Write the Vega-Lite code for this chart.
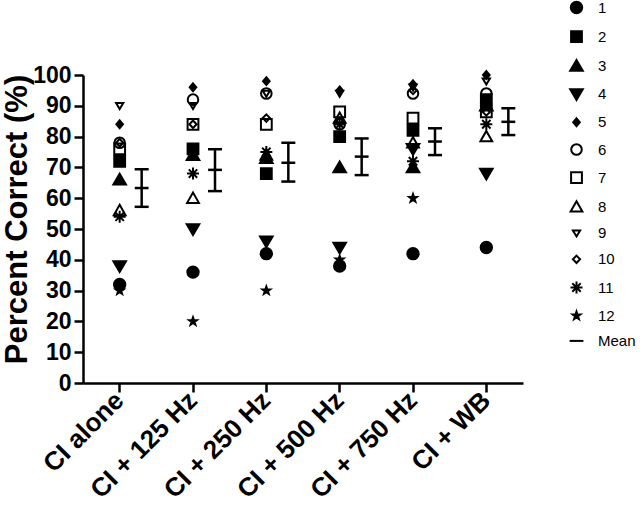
{
  "$schema": "https://vega.github.io/schema/vega-lite/v6.json",
  "width": 440,
  "height": 308,
  "autosize": {"type": "none"},
  "padding": {"left": 83, "top": 75, "right": 117, "bottom": 122},
  "background": "white",
  "config": {
    "view": {"stroke": null},
    "font": "Liberation Sans",
    "axis": {
      "domainColor": "black", "domainWidth": 2.5, "tickColor": "black", "tickWidth": 2.5, "tickSize": 9,
      "labelFont": "Liberation Sans", "labelFontWeight": "bold", "labelColor": "black", "grid": false,
      "titleFont": "Liberation Sans", "titleFontWeight": "bold", "titleColor": "black"
    },
    "legend": {"labelFont": "Liberation Sans", "labelFontSize": 15, "labelColor": "black"}
  },
  "resolve": {"axis": {"y": "independent", "x": "independent"}},
  "datasets": {
    "scores": [
      {"cond": "CI alone", "subject": "1", "value": 32}, {"cond": "CI alone", "subject": "2", "value": 72}, {"cond": "CI alone", "subject": "3", "value": 66}, {"cond": "CI alone", "subject": "4", "value": 38}, {"cond": "CI alone", "subject": "5", "value": 84}, {"cond": "CI alone", "subject": "6", "value": 78}, {"cond": "CI alone", "subject": "7", "value": 76}, {"cond": "CI alone", "subject": "8", "value": 56}, {"cond": "CI alone", "subject": "9", "value": 90}, {"cond": "CI alone", "subject": "10", "value": 78}, {"cond": "CI alone", "subject": "11", "value": 54}, {"cond": "CI alone", "subject": "12", "value": 30},
      {"cond": "CI + 125 Hz", "subject": "1", "value": 36}, {"cond": "CI + 125 Hz", "subject": "2", "value": 76}, {"cond": "CI + 125 Hz", "subject": "3", "value": 74}, {"cond": "CI + 125 Hz", "subject": "4", "value": 50}, {"cond": "CI + 125 Hz", "subject": "5", "value": 96}, {"cond": "CI + 125 Hz", "subject": "6", "value": 92}, {"cond": "CI + 125 Hz", "subject": "7", "value": 84}, {"cond": "CI + 125 Hz", "subject": "8", "value": 60}, {"cond": "CI + 125 Hz", "subject": "9", "value": 90}, {"cond": "CI + 125 Hz", "subject": "10", "value": 84}, {"cond": "CI + 125 Hz", "subject": "11", "value": 68}, {"cond": "CI + 125 Hz", "subject": "12", "value": 20},
      {"cond": "CI + 250 Hz", "subject": "1", "value": 42}, {"cond": "CI + 250 Hz", "subject": "2", "value": 68}, {"cond": "CI + 250 Hz", "subject": "3", "value": 73}, {"cond": "CI + 250 Hz", "subject": "4", "value": 46}, {"cond": "CI + 250 Hz", "subject": "5", "value": 98}, {"cond": "CI + 250 Hz", "subject": "6", "value": 94}, {"cond": "CI + 250 Hz", "subject": "7", "value": 84}, {"cond": "CI + 250 Hz", "subject": "8", "value": 74}, {"cond": "CI + 250 Hz", "subject": "9", "value": 94}, {"cond": "CI + 250 Hz", "subject": "10", "value": 86}, {"cond": "CI + 250 Hz", "subject": "11", "value": 75}, {"cond": "CI + 250 Hz", "subject": "12", "value": 30},
      {"cond": "CI + 500 Hz", "subject": "1", "value": 38}, {"cond": "CI + 500 Hz", "subject": "2", "value": 80}, {"cond": "CI + 500 Hz", "subject": "3", "value": 70}, {"cond": "CI + 500 Hz", "subject": "4", "value": 44}, {"cond": "CI + 500 Hz", "subject": "5", "value": 95}, {"cond": "CI + 500 Hz", "subject": "6", "value": 84}, {"cond": "CI + 500 Hz", "subject": "7", "value": 88}, {"cond": "CI + 500 Hz", "subject": "8", "value": 86}, {"cond": "CI + 500 Hz", "subject": "9", "value": 94}, {"cond": "CI + 500 Hz", "subject": "10", "value": 85}, {"cond": "CI + 500 Hz", "subject": "11", "value": 84}, {"cond": "CI + 500 Hz", "subject": "12", "value": 40},
      {"cond": "CI + 750 Hz", "subject": "1", "value": 42}, {"cond": "CI + 750 Hz", "subject": "2", "value": 82}, {"cond": "CI + 750 Hz", "subject": "3", "value": 70}, {"cond": "CI + 750 Hz", "subject": "4", "value": 76}, {"cond": "CI + 750 Hz", "subject": "5", "value": 97}, {"cond": "CI + 750 Hz", "subject": "6", "value": 94}, {"cond": "CI + 750 Hz", "subject": "7", "value": 86}, {"cond": "CI + 750 Hz", "subject": "8", "value": 78}, {"cond": "CI + 750 Hz", "subject": "9", "value": 96}, {"cond": "CI + 750 Hz", "subject": "10", "value": 95}, {"cond": "CI + 750 Hz", "subject": "11", "value": 72}, {"cond": "CI + 750 Hz", "subject": "12", "value": 60},
      {"cond": "CI + WB", "subject": "1", "value": 44}, {"cond": "CI + WB", "subject": "2", "value": 92}, {"cond": "CI + WB", "subject": "3", "value": 90}, {"cond": "CI + WB", "subject": "4", "value": 68}, {"cond": "CI + WB", "subject": "5", "value": 100}, {"cond": "CI + WB", "subject": "6", "value": 94}, {"cond": "CI + WB", "subject": "7", "value": 88}, {"cond": "CI + WB", "subject": "8", "value": 80}, {"cond": "CI + WB", "subject": "9", "value": 98}, {"cond": "CI + WB", "subject": "10", "value": 88}, {"cond": "CI + WB", "subject": "11", "value": 84}, {"cond": "CI + WB", "subject": "12", "value": 90}
    ],
    "means": [
      {"cond": "CI alone", "subject": "Mean", "mean": 63.3, "lo": 57.2, "hi": 69.4},
      {"cond": "CI + 125 Hz", "subject": "Mean", "mean": 69.2, "lo": 62.3, "hi": 75.9},
      {"cond": "CI + 250 Hz", "subject": "Mean", "mean": 71.5, "lo": 65.4, "hi": 78.0},
      {"cond": "CI + 500 Hz", "subject": "Mean", "mean": 73.5, "lo": 67.5, "hi": 79.4},
      {"cond": "CI + 750 Hz", "subject": "Mean", "mean": 78.4, "lo": 74.0, "hi": 82.7},
      {"cond": "CI + WB", "subject": "Mean", "mean": 84.8, "lo": 80.5, "hi": 89.2}
    ]
  },
  "layer": [
    {
      "data": {"name": "scores"},
      "mark": {"type": "point", "filled": true, "opacity": 1, "strokeWidth": 2, "size": 144},
      "encoding": {
        "x": {"field": "cond", "type": "nominal", "sort": ["CI alone", "CI + 125 Hz", "CI + 250 Hz", "CI + 500 Hz", "CI + 750 Hz", "CI + WB"], "scale": {"type": "band", "paddingInner": 0, "paddingOuter": 0},
              "axis": {"title": null, "labelAngle": -45, "labelAlign": "right", "labelBaseline": "middle", "labelFontSize": 26, "labelPadding": 4, "bandPosition": 0.5}},
        "y": {"field": "value", "type": "quantitative", "title": "Percent Correct (%)", "scale": {"domain": [0, 100], "nice": false},
              "axis": {"values": [0, 10, 20, 30, 40, 50, 60, 70, 80, 90, 100], "labelOverlap": false, "labelFontSize": 23, "labelPadding": 3, "titleFontSize": 31, "titleX": -50, "titleY": 144, "titleAlign": "center", "titleBaseline": "bottom", "titleAngle": -90}},
        "shape": {"field": "subject", "type": "nominal",
          "scale": {"domain": ["1", "2", "3", "4", "5", "6", "7", "8", "9", "10", "11", "12", "Mean"],
            "range": [
              "M0.95,0A0.95,0.95 0 1,1 -0.95,0A0.95,0.95 0 1,1 0.95,0Z",
              "M-0.9,-0.9H0.9V0.9H-0.9Z",
              "M0,-1L1.05,0.8L-1.05,0.8Z",
              "M0,1L1.05,-0.8L-1.05,-0.8Z",
              "M0,-0.65L0.55,0L0,0.65L-0.55,0Z",
              "M0.88,0A0.88,0.88 0 1,1 -0.88,0A0.88,0.88 0 1,1 0.88,0Z",
              "M-0.9,-0.9H0.9V0.9H-0.9Z",
              "M0,-0.95L0.98,0.78L-0.98,0.78Z",
              "M0,0.55L0.6,-0.45L-0.6,-0.45Z",
              "M0,-0.62L0.6,0L0,0.62L-0.6,0Z",
              "M0,-1V1M-1,0H1M-0.7,-0.7L0.7,0.7M-0.7,0.7L0.7,-0.7",
              "M0,-0.68L0.16,-0.22L0.647,-0.21L0.259,0.084L0.4,0.55L0,0.272L-0.4,0.55L-0.259,0.084L-0.647,-0.21L-0.16,-0.22Z",
              "M-1.15,0H1.15"
            ]},
          "legend": {"title": null, "orient": "none", "legendX": 486, "legendY": -75, "padding": 0, "rowPadding": 9.2, "labelOffset": 14, "symbolSize": 144, "symbolStrokeWidth": 2, "labelFontSize": 15}},
        "fill": {"field": "subject", "type": "nominal",
          "scale": {"domain": ["1", "2", "3", "4", "5", "6", "7", "8", "9", "10", "11", "12", "Mean"],
            "range": ["black", "black", "black", "black", "black", "transparent", "transparent", "transparent", "transparent", "transparent", "black", "black", "transparent"]},
          "legend": {"title": null, "orient": "none", "legendX": 486, "legendY": -75, "padding": 0, "rowPadding": 9.2, "labelOffset": 14, "symbolSize": 144, "symbolStrokeWidth": 2, "labelFontSize": 15}},
        "stroke": {"field": "subject", "type": "nominal",
          "scale": {"domain": ["1", "2", "3", "4", "5", "6", "7", "8", "9", "10", "11", "12", "Mean"],
            "range": ["black", "black", "black", "black", "black", "black", "black", "black", "black", "black", "black", "black", "black"]},
          "legend": {"title": null, "orient": "none", "legendX": 486, "legendY": -75, "padding": 0, "rowPadding": 9.2, "labelOffset": 14, "symbolSize": 144, "symbolStrokeWidth": 2, "labelFontSize": 15}}
      }
    },
    {
      "data": {"name": "means"},
      "mark": {"type": "rule", "xOffset": 22, "strokeWidth": 2.5, "color": "black"},
      "encoding": {
        "x": {"field": "cond", "type": "nominal", "sort": ["CI alone", "CI + 125 Hz", "CI + 250 Hz", "CI + 500 Hz", "CI + 750 Hz", "CI + WB"], "axis": null},
        "y": {"field": "lo", "type": "quantitative", "axis": null},
        "y2": {"field": "hi"}
      }
    },
    {
      "data": {"name": "means"},
      "mark": {"type": "tick", "xOffset": 22, "orient": "horizontal", "size": 14, "thickness": 2.5, "color": "black", "opacity": 1},
      "encoding": {
        "x": {"field": "cond", "type": "nominal", "sort": ["CI alone", "CI + 125 Hz", "CI + 250 Hz", "CI + 500 Hz", "CI + 750 Hz", "CI + WB"], "axis": null},
        "y": {"field": "lo", "type": "quantitative", "axis": null}
      }
    },
    {
      "data": {"name": "means"},
      "mark": {"type": "tick", "xOffset": 22, "orient": "horizontal", "size": 14, "thickness": 2.5, "color": "black", "opacity": 1},
      "encoding": {
        "x": {"field": "cond", "type": "nominal", "sort": ["CI alone", "CI + 125 Hz", "CI + 250 Hz", "CI + 500 Hz", "CI + 750 Hz", "CI + WB"], "axis": null},
        "y": {"field": "hi", "type": "quantitative", "axis": null}
      }
    },
    {
      "data": {"name": "means"},
      "mark": {"type": "point", "xOffset": 22, "filled": true, "opacity": 1, "strokeWidth": 2.5, "size": 144},
      "encoding": {
        "x": {"field": "cond", "type": "nominal", "sort": ["CI alone", "CI + 125 Hz", "CI + 250 Hz", "CI + 500 Hz", "CI + 750 Hz", "CI + WB"], "axis": null},
        "y": {"field": "mean", "type": "quantitative", "axis": null},
        "shape": {"field": "subject", "type": "nominal"},
        "fill": {"field": "subject", "type": "nominal"},
        "stroke": {"field": "subject", "type": "nominal"}
      }
    }
  ]
}
